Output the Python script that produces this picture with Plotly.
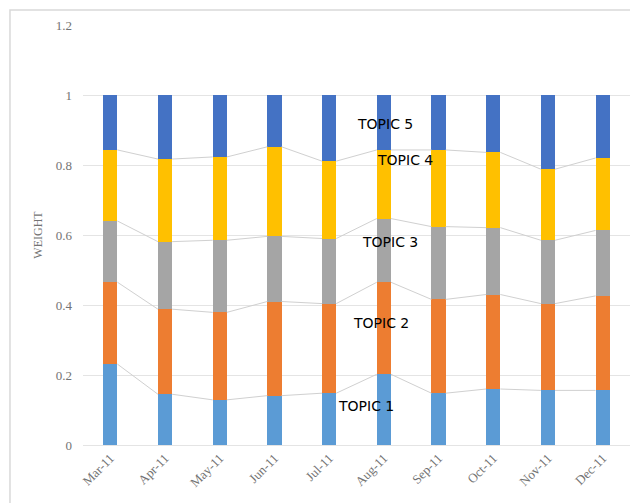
import plotly.graph_objects as go

months = ["Mar-11", "Apr-11", "May-11", "Jun-11", "Jul-11", "Aug-11", "Sep-11", "Oct-11", "Nov-11", "Dec-11"]
topic1 = [0.231, 0.145, 0.129, 0.141, 0.148, 0.202, 0.148, 0.160, 0.156, 0.156]
topic2 = [0.234, 0.243, 0.250, 0.269, 0.256, 0.263, 0.268, 0.270, 0.248, 0.270]
topic3 = [0.175, 0.193, 0.206, 0.186, 0.186, 0.182, 0.208, 0.191, 0.181, 0.187]
topic4 = [0.203, 0.236, 0.238, 0.256, 0.221, 0.196, 0.219, 0.215, 0.203, 0.207]
topic5 = [round(1 - a - b - c - d, 3) for a, b, c, d in zip(topic1, topic2, topic3, topic4)]
series_names = ["TOPIC 1", "TOPIC 2", "TOPIC 3", "TOPIC 4", "TOPIC 5"]
y_ticks = [0, 0.2, 0.4, 0.6, 0.8, 1, 1.2]
y_tick_text = ["0", "0.2", "0.4", "0.6", "0.8", "1", "1.2"]

colors = ["#5B9BD5", "#ED7D31", "#A5A5A5", "#FFC000", "#4472C4"]
series = [topic1, topic2, topic3, topic4, topic5]
xs = list(range(len(months)))
bar_w = 0.26

fig = go.Figure()

# series lines (connectors between bar tops)
cum = [0.0] * len(months)
cums = []
for s in series:
    cum = [c + v for c, v in zip(cum, s)]
    cums.append(cum[:])
for k in range(4):
    lx, ly = [], []
    for i in range(len(months) - 1):
        lx += [xs[i] + bar_w / 2, xs[i + 1] - bar_w / 2, None]
        ly += [cums[k][i], cums[k][i + 1], None]
    fig.add_trace(go.Scatter(x=lx, y=ly, mode="lines", line=dict(color="#D0D0D0", width=1),
                             hoverinfo="skip", showlegend=False))

for name, s, c in zip(series_names, series, colors):
    fig.add_trace(go.Bar(x=xs, y=s, name=name, marker=dict(color=c, line=dict(width=0)),
                         width=bar_w, showlegend=False))

ann = [("TOPIC 5", 5.03, 0.918), ("TOPIC 4", 5.39, 0.815), ("TOPIC 3", 5.12, 0.579),
       ("TOPIC 2", 4.94, 0.350), ("TOPIC 1", 4.68, 0.112)]
for t, x, y in ann:
    fig.add_annotation(x=x, y=y, text=t, showarrow=False, xref="x", yref="y",
                       font=dict(family="DejaVu Sans", size=14, color="#000000"))

fig.add_shape(type="rect", xref="paper", yref="paper", x0=-0.1335, x1=1.1, y0=-0.3, y1=1.036,
              line=dict(color="#D9D9D9", width=1.5), fillcolor="rgba(0,0,0,0)", layer="below")

fig.update_layout(
    barmode="stack",
    width=630, height=495,
    margin=dict(l=75, r=8, t=17, b=58),
    plot_bgcolor="white", paper_bgcolor="white",
    font=dict(family="Liberation Serif", size=12, color="#595959"),
    xaxis=dict(tickmode="array", tickvals=xs, ticktext=months, tickangle=-45,
               range=[-0.5, len(months) - 0.5], showgrid=False, showline=False, zeroline=False,
               ticks="", ticklabelstandoff=2, tickfont=dict(size=13, color="#737373")),
    yaxis=dict(range=[0, 1.2], tickmode="array", tickvals=y_ticks, ticktext=y_tick_text,
               showgrid=True, gridcolor="#E4E4E4", gridwidth=1, zeroline=True,
               zerolinecolor="#E4E4E4", zerolinewidth=1, ticks="", ticklen=0,
               ticklabelstandoff=10,
               tickfont=dict(size=13, color="#737373"),
               title=dict(text="WEIGHT", font=dict(size=12, color="#737373"), standoff=10)),
    bargap=0,
)

fig.write_html("out.html")
